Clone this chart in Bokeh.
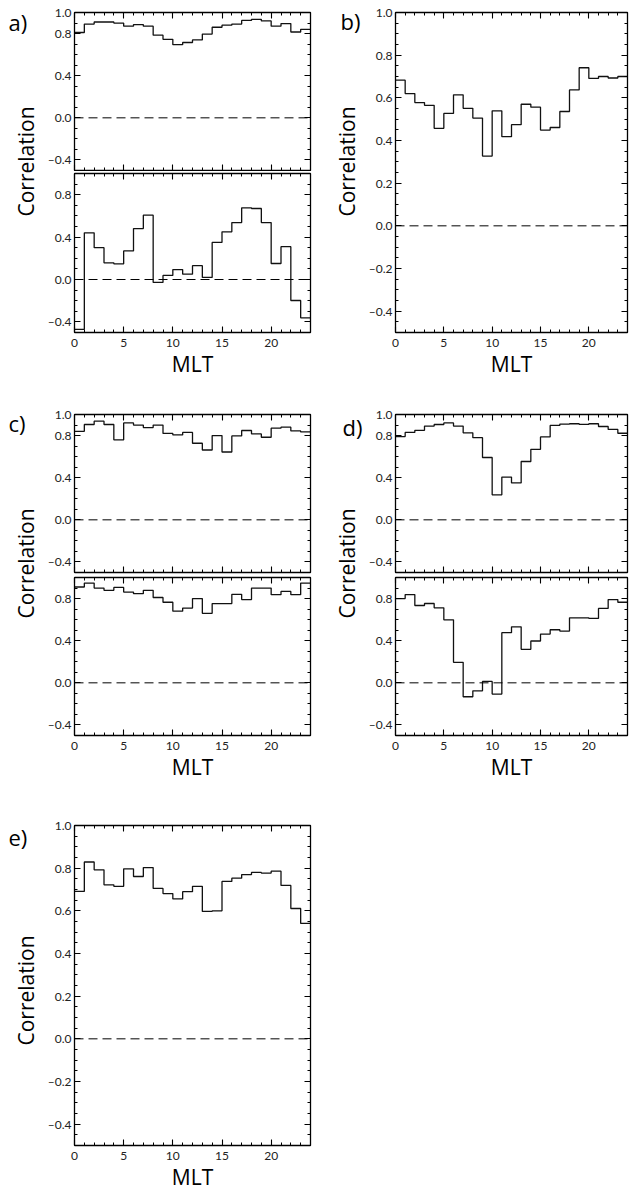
import numpy as np
from bokeh.plotting import figure
from bokeh.models import (Range1d, LinearAxis, FixedTicker, CustomJSTickFormatter, Span, Label,
                          CustomLabelingPolicy)
from bokeh.layouts import row, column
from bokeh.embed import file_html
from bokeh.resources import INLINE

# ---------------- data (hourly MLT bins) ----------------
mlt_bins = list(range(24))
mlt_ticks = [0, 5, 10, 15, 20]

corr_a_top = [0.81, 0.89, 0.91, 0.91, 0.90, 0.87, 0.885, 0.87, 0.785, 0.745, 0.695, 0.715,
              0.74, 0.795, 0.86, 0.88, 0.89, 0.925, 0.935, 0.92, 0.87, 0.895, 0.815, 0.84]
corr_a_bot = [-0.47, 0.44, 0.30, 0.157, 0.148, 0.27, 0.48, 0.607, -0.028, 0.038, 0.094, 0.05,
              0.13, 0.02, 0.35, 0.45, 0.537, 0.676, 0.67, 0.537, 0.151, 0.31, -0.198, -0.362]
corr_b = [0.683, 0.62, 0.578, 0.565, 0.457, 0.527, 0.614, 0.551, 0.505, 0.327, 0.539, 0.418,
          0.474, 0.57, 0.556, 0.449, 0.461, 0.536, 0.637, 0.741, 0.691, 0.70, 0.693, 0.70]
corr_c_top = [0.84, 0.905, 0.937, 0.905, 0.76, 0.92, 0.90, 0.876, 0.90, 0.82, 0.806, 0.83,
              0.727, 0.663, 0.80, 0.644, 0.797, 0.848, 0.816, 0.784, 0.87, 0.88, 0.844, 0.835]
corr_c_bot = [0.91, 0.947, 0.90, 0.878, 0.906, 0.862, 0.846, 0.878, 0.81, 0.765, 0.68, 0.71,
              0.80, 0.66, 0.752, 0.752, 0.84, 0.79, 0.90, 0.90, 0.837, 0.868, 0.837, 0.947]
corr_d_top = [0.79, 0.83, 0.85, 0.89, 0.905, 0.92, 0.89, 0.826, 0.78, 0.592, 0.237, 0.406,
              0.35, 0.554, 0.669, 0.787, 0.896, 0.909, 0.912, 0.906, 0.912, 0.886, 0.858, 0.822]
corr_d_bot = [0.80, 0.838, 0.734, 0.753, 0.712, 0.598, 0.195, -0.132, -0.076, 0.013, -0.107, 0.476,
              0.532, 0.318, 0.397, 0.463, 0.504, 0.491, 0.617, 0.617, 0.611, 0.706, 0.79, 0.765]
corr_e = [0.691, 0.829, 0.792, 0.722, 0.715, 0.797, 0.761, 0.803, 0.705, 0.681, 0.656, 0.69,
          0.715, 0.597, 0.60, 0.738, 0.753, 0.77, 0.78, 0.777, 0.786, 0.719, 0.611, 0.541]

yticks_stack_top = [-0.4, 0.0, 0.4, 0.8, 1.0]
yticks_stack_bot = [-0.4, 0.0, 0.4, 0.8]
yticks_single = [-0.4, -0.2, 0.0, 0.2, 0.4, 0.6, 0.8, 1.0]
yminor_stack = [round(-0.5 + 0.1 * i, 2) for i in range(16)]
yminor_single = [round(-0.5 + 0.05 * i, 3) for i in range(31)]

panel_letters = ["a)", "b)", "c)", "d)", "e)"]
y_title = "Correlation"
x_title = "MLT"

TICK_FONT = "Lato"
LABEL_FONT = "Open Sans"

yfmt_code = "return tick < 0 ? '\u2013' + Math.abs(tick).toFixed(1) : tick.toFixed(1);"


def style_axis(ax, show_labels, tick_font_size="12px"):
    ax.major_tick_in = 6
    ax.major_tick_out = 0
    ax.minor_tick_in = 3
    ax.minor_tick_out = 0
    ax.axis_line_color = "black"
    ax.axis_line_width = 1.3
    ax.major_tick_line_color = "black"
    ax.minor_tick_line_color = "black"
    ax.major_tick_line_width = 1.1
    ax.minor_tick_line_width = 1.0
    ax.major_label_text_font = TICK_FONT
    ax.major_label_text_color = "#222222"
    if show_labels:
        ax.major_label_text_font_size = tick_font_size
    else:
        ax.major_label_policy = CustomLabelingPolicy(code="return []")
        ax.major_label_text_font_size = "0px"
        ax.major_label_standoff = 0


def panel(vals, left, fw, right, top, fh, bottom, yticks, yminor, show_x):
    p = figure(width=left + fw + right, height=top + fh + bottom, title=None,
               x_range=Range1d(0, 24), y_range=Range1d(-0.5, 1.0),
               output_backend="svg", toolbar_location=None,
               min_border_left=left, min_border_right=right,
               min_border_top=top, min_border_bottom=bottom)
    p.grid.visible = False
    p.outline_line_color = "black"
    p.outline_line_width = 1.0
    p.background_fill_color = "white"
    p.border_fill_color = "white"

    xt = FixedTicker(ticks=mlt_ticks, minor_ticks=mlt_bins + [24])
    yt = FixedTicker(ticks=yticks, minor_ticks=yminor)
    fmt = CustomJSTickFormatter(code=yfmt_code)

    xa = p.xaxis[0]
    xa.ticker = xt
    style_axis(xa, show_x)
    if show_x:
        xa.major_label_standoff = 6
        xa.axis_label = x_title
        xa.axis_label_text_font = LABEL_FONT
        xa.axis_label_text_font_size = "21px"
        xa.axis_label_text_font_style = "normal"
        xa.axis_label_text_color = "black"
        xa.axis_label_standoff = 0

    ya = p.yaxis[0]
    ya.ticker = yt
    ya.formatter = fmt
    style_axis(ya, True)
    ya.major_label_standoff = 3

    ra = LinearAxis(ticker=FixedTicker(ticks=yticks, minor_ticks=yminor))
    style_axis(ra, False)
    p.add_layout(ra, "right")
    ta = LinearAxis(ticker=FixedTicker(ticks=mlt_ticks, minor_ticks=mlt_bins + [24]))
    style_axis(ta, False)
    p.add_layout(ta, "above")

    p.add_layout(Span(location=0, dimension="width", line_color="black",
                      line_width=1.0, line_dash="9 5"))
    p.step(x=mlt_bins + [24], y=vals + [vals[-1]], mode="after",
           line_color="#111111", line_width=1.3)
    return p


def strip(x0, w, row_top, h, top, bottom, letter, lx, ly, cx, cy):
    """Blank label column; its frame coordinates are page pixels.
    top/bottom equal the borders of the plot beside it (a row aligns frames)."""
    s = figure(width=w, height=h, title=None,
               x_range=Range1d(x0, x0 + w),
               y_range=Range1d(row_top + h - bottom, row_top + top),
               output_backend="svg", toolbar_location=None,
               x_axis_location=None, y_axis_location=None,
               min_border_left=0, min_border_right=0,
               min_border_top=top, min_border_bottom=bottom)
    s.grid.visible = False
    s.outline_line_color = None
    s.background_fill_color = "white"
    s.border_fill_color = "white"
    s.add_layout(Label(x=lx, y=ly, text=letter, text_font=LABEL_FONT, text_font_size="22px",
                       text_align="left", text_baseline="middle", text_color="black"))
    s.add_layout(Label(x=cx, y=cy, text=y_title, text_font=LABEL_FONT, text_font_size="21px",
                       text_align="center", text_baseline="middle", angle=np.pi / 2,
                       text_color="black"))
    return s


L, FW1, R1 = 27, 239, 8
FW2, R2 = 235, 2
S1, S2 = 44, 47
B1 = 70
B2 = 64
X2 = S1 + L + FW1 + R1          # page x where the second label column starts

# row 1 (top at page y 0)
a_top = panel(corr_a_top, L, FW1, R1, 12, 158, 1, yticks_stack_top, yminor_stack, False)
a_bot = panel(corr_a_bot, L, FW1, R1, 2, 159, B1, yticks_stack_bot, yminor_stack, True)
b_p = panel(corr_b, L, FW2, R2, 12, 320, B1, yticks_single, yminor_single, True)
h1 = 12 + 158 + 1 + 2 + 159 + B1
st1 = strip(0, S1, 0, h1, 12, B1, panel_letters[0], 8, 21, 25, 161)
st2 = strip(X2, S2, 0, h1, 12, B1, panel_letters[1], X2 + 22, 20, X2 + 28, 161)
row1 = row(st1, column(a_top, a_bot), st2, b_p)

# row 2 (top at page y h1)
r2 = h1
c_top = panel(corr_c_top, L, FW1, R1, 12, 158, 2, yticks_stack_top, yminor_stack, False)
c_bot = panel(corr_c_bot, L, FW1, R1, 3, 158, B2, yticks_stack_bot, yminor_stack, True)
d_top = panel(corr_d_top, L, FW2, R2, 12, 158, 2, yticks_stack_top, yminor_stack, False)
d_bot = panel(corr_d_bot, L, FW2, R2, 3, 158, B2, yticks_stack_bot, yminor_stack, True)
h2 = 12 + 158 + 2 + 3 + 158 + B2
st3 = strip(0, S1, r2, h2, 0, 0, panel_letters[2], 8, r2 + 20, 25, r2 + 161)
st4 = strip(X2, S2, r2, h2, 0, 0, panel_letters[3], X2 + 24, r2 + 24, X2 + 28, r2 + 161)
row2 = row(st3, column(c_top, c_bot), st4, column(d_top, d_bot))

# row 3 (top at page y h1 + h2)
r3 = h1 + h2
e_p = panel(corr_e, L, FW1, R1, 26, 322, 46, yticks_single, yminor_single, True)
h3 = 26 + 322 + 46
st5 = strip(0, S1, r3, h3, 26, 46, panel_letters[4], 8, r3 + 38, 25, r3 + 192)
row3 = row(st5, e_p)

layout = column(row1, row2, row3)

open("out.html", "w").write(file_html(layout, INLINE))
